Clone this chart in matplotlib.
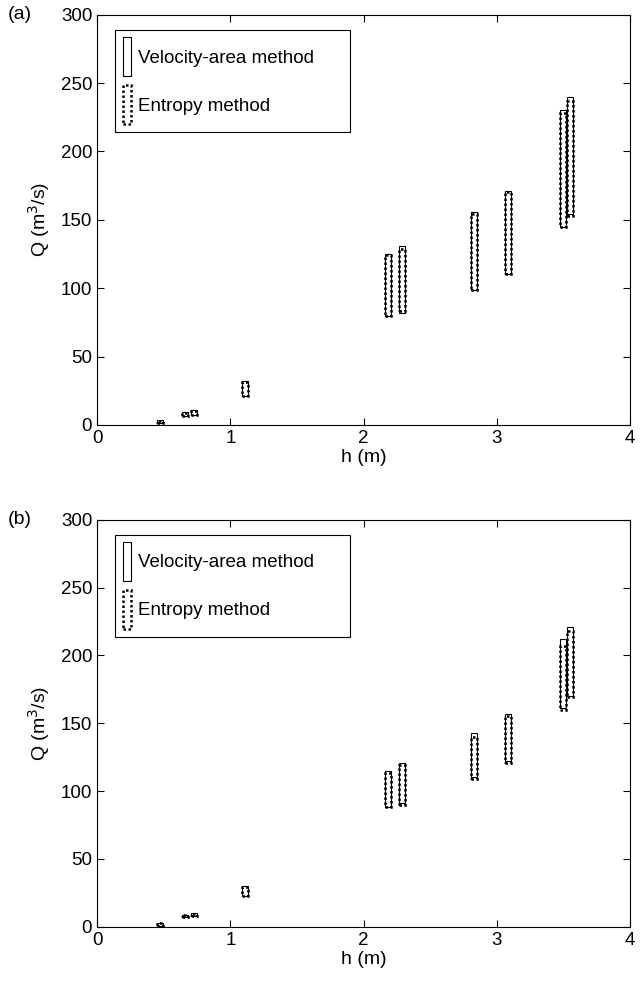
import matplotlib.pyplot as plt
from matplotlib.patches import Rectangle, Patch

plt.rcParams["font.family"] = ["Liberation Sans", "DejaVu Sans"]
plt.rcParams["font.size"] = 13.5

# stage (m) of each gauging
h = [0.47, 0.66, 0.73, 1.11, 2.185, 2.29, 2.825, 3.085, 3.495, 3.545]

# panel (a): discharge bounds (m3/s)
vel_lo_a = [1.5, 6.5, 7.5, 21, 80, 82, 99, 110, 145, 154]
vel_hi_a = [3.5, 9.5, 10.5, 32, 125, 131, 156, 171, 230, 240]
ent_lo_a = [1.5, 6.5, 7.5, 21, 80, 83, 99, 110, 145, 153]
ent_hi_a = [3.0, 9.0, 10.0, 31, 124, 129, 154, 170, 228, 237]

# panel (b): discharge bounds (m3/s)
vel_lo_b = [0.5, 7.0, 8.0, 23, 88, 91, 110, 122, 161, 170]
vel_hi_b = [3.0, 9.0, 10.0, 30, 115, 121, 143, 157, 212, 221]
ent_lo_b = [0.5, 7.0, 8.0, 23, 88, 90, 109, 121, 160, 169]
ent_hi_b = [3.0, 8.5, 9.5, 29, 113, 119, 140, 155, 207, 218]

box_w = 0.045
dots = (0, (1, 1))


def draw_panel(ax, vlo, vhi, elo, ehi, tag):
    for x, lo, hi in zip(h, vlo, vhi):
        ax.add_patch(Rectangle((x - box_w / 2, lo), box_w, hi - lo,
                               fill=False, ec="black", lw=0.8))
    for x, lo, hi in zip(h, elo, ehi):
        ax.add_patch(Rectangle((x - box_w / 2, lo), box_w, hi - lo,
                               fill=False, ec="black", lw=1.8, ls=dots))
    ax.set_xlim(0, 4)
    ax.set_ylim(0, 300)
    ax.set_xticks([0, 1, 2, 3, 4])
    ax.set_yticks([0, 50, 100, 150, 200, 250, 300])
    ax.tick_params(direction="in", top=True, right=True, length=5,
                   labelsize=13.5)
    ax.set_xlabel("h (m)", fontsize=14, labelpad=2)
    ax.set_ylabel("Q (m$^3$/s)", fontsize=14, labelpad=6)
    handles = [
        Patch(fill=False, ec="black", lw=0.8, label="Velocity-area method"),
        Patch(fill=False, ec="black", lw=1.8, ls=dots, label="Entropy method"),
    ]
    leg = ax.legend(handles=handles, loc="upper left",
                    bbox_to_anchor=(0.034, 0.5, 0.441, 0.463), mode="expand",
                    fancybox=False, edgecolor="black", framealpha=1,
                    handlelength=0.45, handleheight=2.82, handletextpad=0.35,
                    labelspacing=0.48, borderpad=0.4, borderaxespad=0.0,
                    fontsize=13.5)
    leg.get_frame().set_linewidth(0.8)
    pos = ax.get_position()
    ax.figure.text(0.012, pos.y1, tag, fontsize=14, va="center", ha="left")


fig = plt.figure(figsize=(6.43, 9.88), dpi=100)
ax_a = fig.add_axes([0.151, 0.570, 0.829, 0.415])
ax_b = fig.add_axes([0.151, 0.062, 0.829, 0.412])

draw_panel(ax_a, vel_lo_a, vel_hi_a, ent_lo_a, ent_hi_a, "(a)")
draw_panel(ax_b, vel_lo_b, vel_hi_b, ent_lo_b, ent_hi_b, "(b)")

fig.savefig("out.png", dpi=100)
